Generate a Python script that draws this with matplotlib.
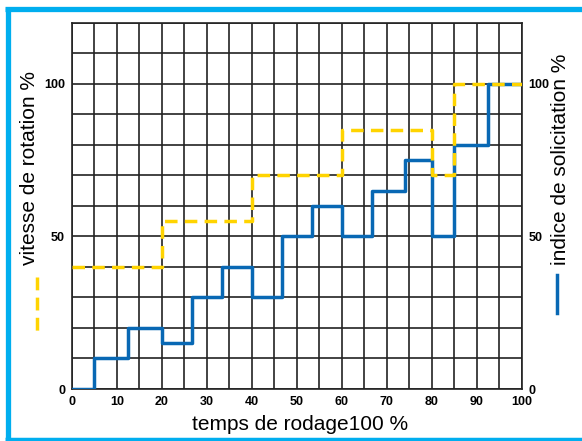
import matplotlib
matplotlib.use('Agg')
import matplotlib.pyplot as plt
from matplotlib.lines import Line2D

# temps de rodage (%) where each level starts / ends
blue_edges = [0, 5, 12.5, 20, 26.7, 33.3, 40, 46.7, 53.3, 60, 66.7, 74, 80, 85, 92.5, 100]
blue_vals = [0, 10, 20, 15, 30, 40, 30, 50, 60, 50, 65, 75, 50, 80, 100]   # indice de solicitation %

yellow_edges = [0, 20, 40, 60, 80, 85, 100]
yellow_vals = [40, 55, 70, 85, 70, 100]   # vitesse de rotation %

xticks = [0, 10, 20, 30, 40, 50, 60, 70, 80, 90, 100]
yticks = [0, 50, 100]

blue = '#0868B4'
yellow = '#FFD400'
cyan = '#00AEEF'
tickfont = dict(family=['Liberation Sans Narrow', 'Liberation Sans', 'DejaVu Sans'],
                weight='bold', size=9)
labfont = dict(family=['Liberation Sans', 'DejaVu Sans'], size=15)

fig = plt.figure(figsize=(5.82, 4.41), dpi=100)
ax = fig.add_axes([72 / 582, 1 - 389 / 441, (521.7 - 72) / 582, (389 - 22.7) / 441])

# grid
for gx in range(0, 101, 5):
    ax.axvline(gx, color='#222222', lw=1.2, zorder=1)
for gy in range(0, 121, 10):
    ax.axhline(gy, color='#222222', lw=1.2, zorder=1)

ax.step(blue_edges, blue_vals + [blue_vals[-1]], where='post', color=blue, lw=2.5, zorder=3)
ax.step(yellow_edges, yellow_vals + [yellow_vals[-1]], where='post', color=yellow, lw=2.5,
        dashes=(3.6, 2.1), zorder=4)

ax.set_xlim(0, 100)
ax.set_ylim(0, 120)
ax.set_xticks(xticks)
ax.set_yticks(yticks)
ax.set_xticklabels([str(v) for v in xticks], fontdict=tickfont)
ax.set_yticklabels([str(v) for v in yticks], fontdict=tickfont)
ax.tick_params(length=0, pad=5, labelright=True)
for s in ax.spines.values():
    s.set_color('#222222')
    s.set_linewidth(1.2)

fig.text(300 / 582, 1 - 424 / 441, 'temps de rodage100 %', ha='center', va='center', **labfont)
fig.text(30 / 582, 1 - 168 / 441, 'vitesse de rotation %', rotation=90, ha='center', va='center', **labfont)
fig.text(560 / 582, 1 - 159 / 441, 'indice de solicitation %', rotation=90, ha='center', va='center', **labfont)

# legend marks under the axis titles
fig.add_artist(Line2D([37 / 582, 37 / 582], [1 - 277 / 441, 1 - 334 / 441], transform=fig.transFigure,
                      color=yellow, lw=2.5, dashes=(3.7, 2.1)))
fig.add_artist(Line2D([557 / 582, 557 / 582], [1 - 275 / 441, 1 - 313 / 441], transform=fig.transFigure,
                      color=blue, lw=2.5))

# cyan frame
fig.add_artist(Line2D([7.5 / 582, 7.5 / 582], [1 - 438 / 441, 1 - 8 / 441], transform=fig.transFigure,
                      color=cyan, lw=3.8, solid_capstyle='butt'))
fig.add_artist(Line2D([5 / 582, 1], [1 - 8.5 / 441, 1 - 8.5 / 441], transform=fig.transFigure,
                      color=cyan, lw=3.8, solid_capstyle='butt'))
fig.add_artist(Line2D([5 / 582, 1], [1 - 439 / 441, 1 - 439 / 441], transform=fig.transFigure,
                      color=cyan, lw=2.5, solid_capstyle='butt'))

fig.savefig('out.png', dpi=100)
